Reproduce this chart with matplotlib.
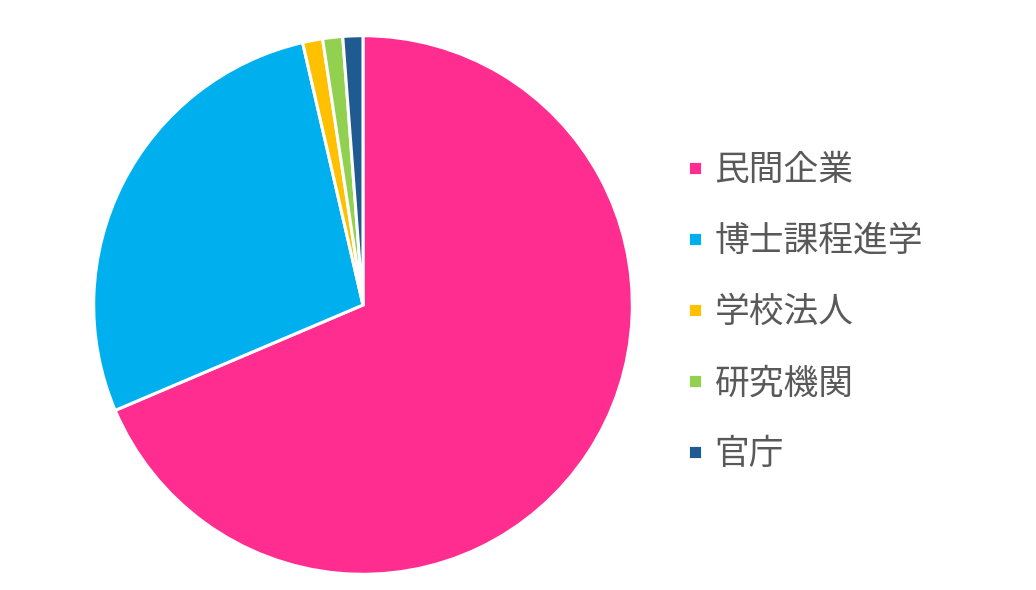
import matplotlib.pyplot as plt
from matplotlib.lines import Line2D

plt.rcParams['font.family'] = ['Noto Sans CJK JP', 'DejaVu Sans']

# データ（割合 %）
labels = ['民間企業', '博士課程進学', '学校法人', '研究機関', '官庁']
values = [68.6, 27.8, 1.2, 1.2, 1.2]
colors = ['#FF2D8F', '#00B0EE', '#FFC000', '#92D050', '#1F5A91']

fig = plt.figure(figsize=(10.36, 5.9), dpi=100)
ax = fig.add_axes([91 / 1036, 13 / 590, 544 / 1036, 544 / 590])

ax.pie(values, colors=colors, startangle=90, counterclock=False,
       wedgeprops=dict(edgecolor='white', linewidth=2.2))
ax.set_xlim(-1.01, 1.01)
ax.set_ylim(-1.01, 1.01)
ax.set_aspect('equal')

handles = [Line2D([], [], marker='s', linestyle='none', markersize=9,
                  markerfacecolor=c, markeredgecolor='white', markeredgewidth=0.6)
           for c in colors]
leg = fig.legend(handles, labels, loc='center left', bbox_to_anchor=(0.631, 0.47),
                 frameon=False, fontsize=25, labelspacing=1.04,
                 handlelength=0.6, handletextpad=0.25, labelcolor='#595959')

fig.savefig('out.png', dpi=100, facecolor='white')
